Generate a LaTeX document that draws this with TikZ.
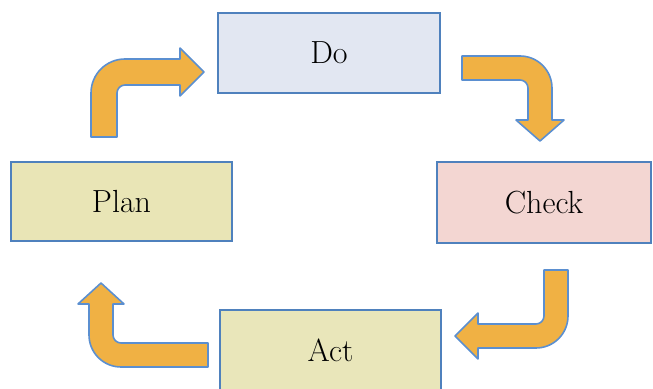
\documentclass[tikz,border=0pt]{standalone}
\usepackage{tikz}
\definecolor{boxline}{HTML}{4F81BD}
\definecolor{dofill}{HTML}{E2E7F2}
\definecolor{planfill}{HTML}{E9E5B6}
\definecolor{checkfill}{HTML}{F3D6D2}
\definecolor{actfill}{HTML}{E9E6BA}
\definecolor{arrowfill}{HTML}{F0B144}
\definecolor{arrowline}{HTML}{5B8FD0}
\begin{document}
\begin{tikzpicture}[x=0.5pt,y=-0.5pt,
  pbox/.style={draw=boxline, line width=0.9pt, rectangle, inner sep=0pt,
    font=\fontsize{16}{19}\selectfont},
  barrow/.style={fill=arrowfill, draw=arrowline, line width=0.8pt, line join=round}]
\useasboundingbox (0,0) rectangle (653,389);
\node[pbox, fill=dofill, minimum width=111pt, minimum height=40pt] (do) at (329,53) {Do};
\node[pbox, fill=planfill, minimum width=110.5pt, minimum height=39.5pt] (plan) at (121.5,201.5) {Plan};
\node[pbox, fill=checkfill, minimum width=107pt, minimum height=40.5pt] (check) at (544,202.5) {Check};
\node[pbox, fill=actfill, minimum width=110.5pt, minimum height=40pt] (act) at (330.5,350) {Act};
% Plan -> Do
\draw[barrow] (91,137) -- (91,93) arc[start angle=180, end angle=270, radius=34]
  -- (180,59) -- (180,48) -- (204,72) -- (180,96) -- (180,85) -- (125,85)
  arc[start angle=270, end angle=180, radius=8] -- (117,137) -- cycle;
% Do -> Check
\draw[barrow] (462,56) -- (520,56) arc[start angle=270, end angle=360, radius=32]
  -- (552,120) -- (564,120) -- (540,141) -- (516,120) -- (528,120) -- (528,88)
  arc[start angle=0, end angle=-90, radius=8] -- (462,80) -- cycle;
% Check -> Act
\draw[barrow] (544,270) -- (568,270) -- (568,316) arc[start angle=0, end angle=90, radius=32]
  -- (478,348) -- (478,359) -- (455,336) -- (478,313) -- (478,324) -- (536,324)
  arc[start angle=90, end angle=0, radius=8] -- cycle;
% Act -> Plan
\draw[barrow] (208,343) -- (121,343) arc[start angle=90, end angle=180, radius=8]
  -- (113,304) -- (124,304) -- (101,283) -- (78,304) -- (89,304) -- (89,335)
  arc[start angle=180, end angle=90, radius=32] -- (208,367) -- cycle;
\end{tikzpicture}
\end{document}
